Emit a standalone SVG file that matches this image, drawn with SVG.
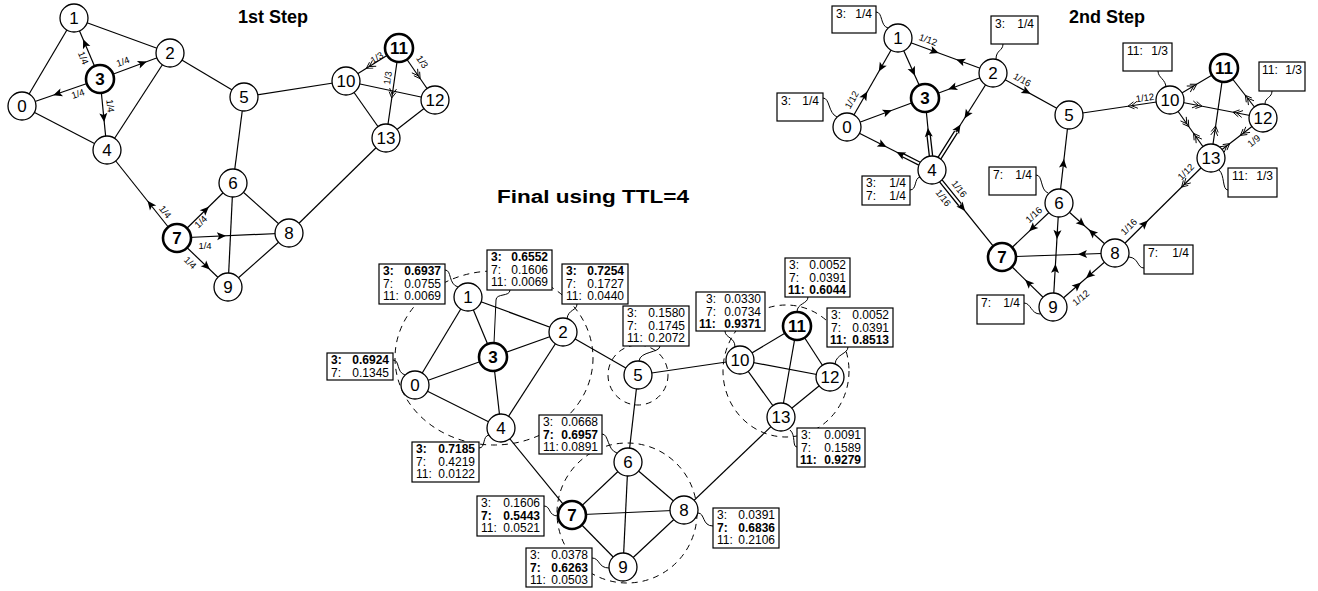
<svg xmlns="http://www.w3.org/2000/svg" width="1318" height="591" viewBox="0 0 1318 591">
<style>
.e{stroke:#000;stroke-width:1.2;fill:none}
.n circle{fill:#fff;stroke:#000;stroke-width:1.3}
.n text{font-family:"Liberation Sans",Arial,sans-serif;font-size:17px;text-anchor:middle}
.n.b circle{stroke-width:2.6}
.n.b text{font-weight:bold}
.box{fill:#fff;stroke:#000;stroke-width:1.2}
.bt{font-family:"Liberation Sans",Arial,sans-serif;font-size:12px}
.r{text-anchor:end}
.bd{font-weight:bold}
.lab{font-family:"Liberation Sans",Arial,sans-serif;font-size:9.5px;text-anchor:middle}
.title{font-family:"Liberation Sans",Arial,sans-serif;font-size:18px;font-weight:bold;text-anchor:middle}
.dash{fill:none;stroke:#000;stroke-dasharray:6 5;stroke-width:1}
.con{fill:none;stroke:#000;stroke-width:1}
.af{fill:none;stroke:none;marker-end:url(#fa)}
.ac{fill:none;stroke:none;marker-end:url(#dc)}
.dl1{stroke:#000;stroke-width:4.6;fill:none}
.dl2{stroke:#fff;stroke-width:2;fill:none}
</style>
<defs>
<marker id="fa" markerUnits="userSpaceOnUse" viewBox="-7 -6 14 12" markerWidth="14" markerHeight="12" refX="0" refY="0" orient="auto" overflow="visible">
<path d="M4,0 L-5,-4 L-3,0 L-5,4 Z" fill="#000"/>
</marker>
<marker id="dc" markerUnits="userSpaceOnUse" viewBox="-10 -6 14 12" markerWidth="14" markerHeight="12" refX="0" refY="0" orient="auto" overflow="visible">
<path d="M2,0 L-4,-3.5 M2,0 L-4,3.5 M-1.5,0 L-7.5,-3.5 M-1.5,0 L-7.5,3.5" fill="none" stroke="#000" stroke-width="0.9"/>
</marker>
</defs>
<rect width="1318" height="591" fill="#fff"/>

<text class="title" x="273" y="23">1st Step</text>
<text class="title" x="1107" y="23">2nd Step</text>
<text class="title" x="593" y="203" font-size="19" textLength="192" lengthAdjust="spacingAndGlyphs">Final using TTL=4</text>

<g id="connectors">
<!-- Step 1 edges -->
<g id="s1-edges" class="e">
<line x1="22" y1="106" x2="74" y2="18"/><line x1="74" y1="18" x2="170" y2="53"/><line x1="74" y1="18" x2="100" y2="79"/>
<line x1="22" y1="106" x2="100" y2="79"/><line x1="170" y1="53" x2="100" y2="79"/><line x1="100" y1="79" x2="107" y2="150"/>
<line x1="22" y1="106" x2="107" y2="150"/><line x1="170" y1="53" x2="107" y2="150"/><line x1="170" y1="53" x2="244" y2="97"/>
<line x1="244" y1="97" x2="346" y2="81"/><line x1="244" y1="97" x2="233" y2="183"/><line x1="107" y1="150" x2="177" y2="238"/>
<line x1="233" y1="183" x2="177" y2="238"/><line x1="233" y1="183" x2="289" y2="233"/><line x1="233" y1="183" x2="228" y2="287"/>
<line x1="177" y1="238" x2="289" y2="233"/><line x1="177" y1="238" x2="228" y2="287"/><line x1="289" y1="233" x2="228" y2="287"/>
<line x1="289" y1="233" x2="386" y2="138"/><line x1="346" y1="81" x2="399" y2="48"/><line x1="346" y1="81" x2="435" y2="100"/>
<line x1="346" y1="81" x2="386" y2="138"/><line x1="399" y1="48" x2="435" y2="100"/><line x1="399" y1="48" x2="386" y2="138"/>
<line x1="435" y1="100" x2="386" y2="138"/>
</g>
<g id="s1-arrows">
<path class="af" d="M100,79 L84.7,43"/><path class="af" d="M100,79 L143,63"/><path class="af" d="M100,79 L57,94"/><path class="af" d="M100,79 L103.8,118"/>
<path class="af" d="M177,238 L150,204"/><path class="af" d="M177,238 L206,209.5"/><path class="af" d="M177,238 L222,236"/><path class="af" d="M177,238 L207,266.8"/>
<path class="ac" d="M399,48 L368,67.3"/><path class="ac" d="M399,48 L392,96"/><path class="ac" d="M399,48 L419,77"/>
</g>
<g id="s1-labels" class="lab">
<text transform="translate(83,58) rotate(67)" y="3">1/4</text>
<text transform="translate(123,62) rotate(-20)" y="3">1/4</text>
<text transform="translate(78,94) rotate(-19)" y="3">1/4</text>
<text transform="translate(110,106) rotate(84)" y="3">1/4</text>
<text transform="translate(165,212) rotate(51)" y="3">1/4</text>
<text transform="translate(201,222) rotate(-44)" y="3">1/4</text>
<text transform="translate(205,246)" y="3">1/4</text>
<text transform="translate(190,263) rotate(44)" y="3">1/4</text>
<text transform="translate(377,58) rotate(-32)" y="3">1/3</text>
<text transform="translate(388,78) rotate(-82)" y="3">1/3</text>
<text transform="translate(422,62) rotate(55)" y="3">1/3</text>
</g>

<!-- Step 2 edges -->
<g id="s2-edges" class="e">
<line x1="847" y1="127" x2="898" y2="38"/><line x1="898" y1="38" x2="993" y2="73"/><line x1="898" y1="38" x2="925" y2="98"/>
<line x1="847" y1="127" x2="925" y2="98"/><line x1="993" y1="73" x2="925" y2="98"/><line x1="925" y1="98" x2="932" y2="170"/>
<line x1="847" y1="127" x2="932" y2="170"/><line x1="993" y1="73" x2="932" y2="170"/><line x1="993" y1="73" x2="1069" y2="115"/>
<line x1="1069" y1="115" x2="1170" y2="100"/><line x1="1069" y1="115" x2="1059" y2="203"/><line x1="932" y1="170" x2="1002" y2="257"/>
<line x1="1059" y1="203" x2="1002" y2="257"/><line x1="1059" y1="203" x2="1115" y2="253"/><line x1="1059" y1="203" x2="1053" y2="307"/>
<line x1="1002" y1="257" x2="1115" y2="253"/><line x1="1002" y1="257" x2="1053" y2="307"/><line x1="1115" y1="253" x2="1053" y2="307"/>
<line x1="1115" y1="253" x2="1211" y2="158"/><line x1="1170" y1="100" x2="1224" y2="68"/><line x1="1170" y1="100" x2="1263" y2="118"/>
<line x1="1170" y1="100" x2="1211" y2="158"/><line x1="1224" y1="68" x2="1263" y2="118"/><line x1="1224" y1="68" x2="1211" y2="158"/>
<line x1="1263" y1="118" x2="1211" y2="158"/>
</g>
<g id="s2-double">
<path class="dl1" d="M931,156 L928.6,135 M939.4,158.2 L956,132 M919.5,163.7 L903,155.3 M940.8,180.9 L960,204.7"/>
<path class="dl2" d="M931,156 L928.6,135 M939.4,158.2 L956,132 M919.5,163.7 L903,155.3 M940.8,180.9 L960,204.7"/>
</g>
<g id="s2-arrows">
<path class="af" d="M898,38 L880.8,68"/><path class="af" d="M847,127 L865.3,95"/><path class="af" d="M898,38 L913.3,72"/>
<path class="af" d="M898,38 L935,51.6"/><path class="af" d="M993,73 L960,60.8"/><path class="af" d="M993,73 L952,88"/>
<path class="af" d="M993,73 L966.6,115"/><path class="af" d="M932,170 L958.4,128"/><path class="af" d="M847,127 L888,111.7"/>
<path class="af" d="M847,127 L883,145.2"/><path class="af" d="M932,170 L900,153.8"/><path class="af" d="M932,170 L928.3,132"/>
<path class="af" d="M993,73 L1027,91.8"/><path class="af" d="M932,170 L962.6,208"/><path class="af" d="M1059,203 L1063.5,163"/>
<path class="af" d="M1059,203 L1032,228.6"/><path class="af" d="M1059,203 L1057.2,235"/><path class="af" d="M1053,307 L1055.3,268"/>
<path class="af" d="M1059,203 L1082,223.5"/><path class="af" d="M1115,253 L1091.7,232.2"/><path class="af" d="M1115,253 L1082,254.2"/>
<path class="af" d="M1115,253 L1089,275.6"/><path class="af" d="M1053,307 L1078,285.2"/><path class="af" d="M1053,307 L1028,282.5"/>
<path class="af" d="M1115,253 L1145,223.3"/>
<path class="ac" d="M1211,158 L1183,185.7"/><path class="ac" d="M1170,100 L1130,105.9"/><path class="ac" d="M1170,100 L1195,85.2"/>
<path class="ac" d="M1170,100 L1200,105.8"/><path class="ac" d="M1263,118 L1235,112.6"/><path class="ac" d="M1170,100 L1187.7,125"/>
<path class="ac" d="M1211,158 L1194.7,135"/><path class="ac" d="M1211,158 L1215.3,128"/><path class="ac" d="M1263,118 L1246.6,97"/>
<path class="ac" d="M1211,158 L1228,144.9"/><path class="ac" d="M1263,118 L1242,134.2"/>
</g>
<g id="s2-labels" class="lab">
<text transform="translate(852,100) rotate(-60)" y="3">1/12</text>
<text transform="translate(928,40) rotate(20)" y="3">1/12</text>
<text transform="translate(1022,80) rotate(29)" y="3">1/16</text>
<text transform="translate(959,189) rotate(52)" y="3">1/16</text>
<text transform="translate(943,198) rotate(52)" y="3">1/16</text>
<text transform="translate(1034,215) rotate(-43)" y="3">1/16</text>
<text transform="translate(1081,298) rotate(-40)" y="3">1/12</text>
<text transform="translate(1129,227) rotate(-45)" y="3">1/16</text>
<text transform="translate(1186,172) rotate(-45)" y="3">1/12</text>
<text transform="translate(1145,98) rotate(-8)" y="3">1/12</text>
<text transform="translate(1254,141) rotate(-40)" y="3">1/9</text>
</g>
<g id="s2-callouts" class="con">
<path d="M876,12 C883,12 880,26 888,28"/><path d="M1003,44 C1003,51 996,50 996,59"/><path d="M823,98 C830,98 828,113 837,117"/>
<path d="M910,190 C917,190 914,178 920,177"/><path d="M1036,175 C1043,175 1040,190 1048,193"/><path d="M1144,268 C1137,268 1139,258 1129,257"/>
<path d="M1024,303 C1031,303 1031,314 1040,314"/><path d="M1158,71 C1158,78 1166,79 1166,88"/><path d="M1272,91 C1272,98 1265,97 1265,104"/>
<path d="M1228,190 C1222,190 1225,175 1219,170"/>
</g>

<!-- Final edges -->
<g id="f-edges" class="e">
<line x1="415" y1="385" x2="468" y2="297"/><line x1="468" y1="297" x2="563" y2="332"/><line x1="468" y1="297" x2="493" y2="357"/>
<line x1="415" y1="385" x2="493" y2="357"/><line x1="563" y1="332" x2="493" y2="357"/><line x1="493" y1="357" x2="501" y2="428"/>
<line x1="415" y1="385" x2="501" y2="428"/><line x1="563" y1="332" x2="501" y2="428"/><line x1="563" y1="332" x2="638" y2="375"/>
<line x1="638" y1="375" x2="740" y2="360"/><line x1="638" y1="375" x2="628" y2="462"/><line x1="501" y1="428" x2="572" y2="515"/>
<line x1="628" y1="462" x2="572" y2="515"/><line x1="628" y1="462" x2="684" y2="510"/><line x1="628" y1="462" x2="623" y2="567"/>
<line x1="572" y1="515" x2="684" y2="510"/><line x1="572" y1="515" x2="623" y2="567"/><line x1="684" y1="510" x2="623" y2="567"/>
<line x1="684" y1="510" x2="781" y2="417"/><line x1="740" y1="360" x2="797" y2="326"/><line x1="740" y1="360" x2="830" y2="377"/>
<line x1="740" y1="360" x2="781" y2="417"/><line x1="797" y1="326" x2="830" y2="377"/><line x1="797" y1="326" x2="781" y2="417"/>
<line x1="830" y1="377" x2="781" y2="417"/>
</g>
<g id="f-regions">
<ellipse class="dash" cx="494" cy="358" rx="99" ry="87"/>
<circle class="dash" cx="638" cy="375" r="30"/>
<ellipse class="dash" cx="786" cy="371" rx="63" ry="66"/>
<circle class="dash" cx="627" cy="513" r="70"/>
</g>
<g id="f-callouts" class="con">
<path d="M445,270 C452,270 448,284 458,287"/><path d="M510,290 C510,297 496,293 496,300 L494,343"/><path d="M577,304 C577,311 568,309 567,319"/>
<path d="M393,360 C400,360 396,372 405,375"/><path d="M479,448 C486,448 482,436 489,435"/><path d="M602,434 C609,434 607,450 617,453"/>
<path d="M544,506 C551,506 548,516 558,516"/><path d="M592,558 C600,558 598,568 609,568"/><path d="M660,346 C660,353 640,351 639,361"/>
<path d="M725,331 C725,338 735,337 735,347"/><path d="M808,297 C808,304 797,303 797,312"/><path d="M848,347 C848,354 836,354 835,364"/>
<path d="M797,447 C792,447 796,435 790,430"/><path d="M698,513 C705,513 702,526 713,526"/>
</g>
</g>

<!-- Step 1 nodes -->
<g id="s1-n0" class="n"><circle cx="22" cy="106" r="14"/><text x="22" y="112">0</text></g>
<g id="s1-n1" class="n"><circle cx="74" cy="18" r="14"/><text x="74" y="24">1</text></g>
<g id="s1-n2" class="n"><circle cx="170" cy="53" r="14"/><text x="170" y="59">2</text></g>
<g id="s1-n3" class="n b"><circle cx="100" cy="79" r="14"/><text x="100" y="85">3</text></g>
<g id="s1-n4" class="n"><circle cx="107" cy="150" r="14"/><text x="107" y="156">4</text></g>
<g id="s1-n5" class="n"><circle cx="244" cy="97" r="14"/><text x="244" y="103">5</text></g>
<g id="s1-n6" class="n"><circle cx="233" cy="183" r="14"/><text x="233" y="189">6</text></g>
<g id="s1-n7" class="n b"><circle cx="177" cy="238" r="14"/><text x="177" y="244">7</text></g>
<g id="s1-n8" class="n"><circle cx="289" cy="233" r="14"/><text x="289" y="239">8</text></g>
<g id="s1-n9" class="n"><circle cx="228" cy="287" r="14"/><text x="228" y="293">9</text></g>
<g id="s1-n10" class="n"><circle cx="346" cy="81" r="14"/><text x="346" y="87">10</text></g>
<g id="s1-n11" class="n b"><circle cx="399" cy="48" r="14"/><text x="399" y="54">11</text></g>
<g id="s1-n12" class="n"><circle cx="435" cy="100" r="14"/><text x="435" y="106">12</text></g>
<g id="s1-n13" class="n"><circle cx="386" cy="138" r="14"/><text x="386" y="144">13</text></g>

<!-- Step 2 nodes -->
<g id="s2-n0" class="n"><circle cx="847" cy="127" r="14"/><text x="847" y="133">0</text></g>
<g id="s2-n1" class="n"><circle cx="898" cy="38" r="14"/><text x="898" y="44">1</text></g>
<g id="s2-n2" class="n"><circle cx="993" cy="73" r="14"/><text x="993" y="79">2</text></g>
<g id="s2-n3" class="n b"><circle cx="925" cy="98" r="14"/><text x="925" y="104">3</text></g>
<g id="s2-n4" class="n"><circle cx="932" cy="170" r="14"/><text x="932" y="176">4</text></g>
<g id="s2-n5" class="n"><circle cx="1069" cy="115" r="14"/><text x="1069" y="121">5</text></g>
<g id="s2-n6" class="n"><circle cx="1059" cy="203" r="14"/><text x="1059" y="209">6</text></g>
<g id="s2-n7" class="n b"><circle cx="1002" cy="257" r="14"/><text x="1002" y="263">7</text></g>
<g id="s2-n8" class="n"><circle cx="1115" cy="253" r="14"/><text x="1115" y="259">8</text></g>
<g id="s2-n9" class="n"><circle cx="1053" cy="307" r="14"/><text x="1053" y="313">9</text></g>
<g id="s2-n10" class="n"><circle cx="1170" cy="100" r="14"/><text x="1170" y="106">10</text></g>
<g id="s2-n11" class="n b"><circle cx="1224" cy="68" r="14"/><text x="1224" y="74">11</text></g>
<g id="s2-n12" class="n"><circle cx="1263" cy="118" r="14"/><text x="1263" y="124">12</text></g>
<g id="s2-n13" class="n"><circle cx="1211" cy="158" r="14"/><text x="1211" y="164">13</text></g>

<!-- Step 2 boxes -->
<g id="s2-box1" class="bt"><rect class="box" x="832" y="6" width="44" height="27"/><text x="836" y="18">3:</text><text class="r" x="872" y="18">1/4</text></g>
<g id="s2-box2" class="bt"><rect class="box" x="991" y="16" width="47" height="28"/><text x="995" y="28">3:</text><text class="r" x="1034" y="28">1/4</text></g>
<g id="s2-box0" class="bt"><rect class="box" x="777" y="93" width="46" height="28"/><text x="781" y="105">3:</text><text class="r" x="819" y="105">1/4</text></g>
<g id="s2-box4" class="bt"><rect class="box" x="862" y="176" width="48" height="29"/><text x="866" y="187">3:</text><text class="r" x="906" y="187">1/4</text><text x="866" y="200">7:</text><text class="r" x="906" y="200">1/4</text></g>
<g id="s2-box6" class="bt"><rect class="box" x="989" y="167" width="47" height="28"/><text x="993" y="179">7:</text><text class="r" x="1032" y="179">1/4</text></g>
<g id="s2-box8" class="bt"><rect class="box" x="1144" y="245" width="49" height="29"/><text x="1148" y="257">7:</text><text class="r" x="1189" y="257">1/4</text></g>
<g id="s2-box9" class="bt"><rect class="box" x="977" y="295" width="47" height="29"/><text x="981" y="307">7:</text><text class="r" x="1020" y="307">1/4</text></g>
<g id="s2-box10" class="bt"><rect class="box" x="1123" y="43" width="49" height="28"/><text x="1127" y="55">11:</text><text class="r" x="1168" y="55">1/3</text></g>
<g id="s2-box12" class="bt"><rect class="box" x="1259" y="62" width="46" height="29"/><text x="1262" y="74">11:</text><text class="r" x="1302" y="74">1/3</text></g>
<g id="s2-box13" class="bt"><rect class="box" x="1228" y="168" width="49" height="29"/><text x="1232" y="180">11:</text><text class="r" x="1273" y="180">1/3</text></g>

<!-- Final nodes -->
<g id="f-n0" class="n"><circle cx="415" cy="385" r="14"/><text x="415" y="391">0</text></g>
<g id="f-n1" class="n"><circle cx="468" cy="297" r="14"/><text x="468" y="303">1</text></g>
<g id="f-n2" class="n"><circle cx="563" cy="332" r="14"/><text x="563" y="338">2</text></g>
<g id="f-n3" class="n b"><circle cx="493" cy="357" r="14"/><text x="493" y="363">3</text></g>
<g id="f-n4" class="n"><circle cx="501" cy="428" r="14"/><text x="501" y="434">4</text></g>
<g id="f-n5" class="n"><circle cx="638" cy="375" r="14"/><text x="638" y="381">5</text></g>
<g id="f-n6" class="n"><circle cx="628" cy="462" r="14"/><text x="628" y="468">6</text></g>
<g id="f-n7" class="n b"><circle cx="572" cy="515" r="14"/><text x="572" y="521">7</text></g>
<g id="f-n8" class="n"><circle cx="684" cy="510" r="14"/><text x="684" y="516">8</text></g>
<g id="f-n9" class="n"><circle cx="623" cy="567" r="14"/><text x="623" y="573">9</text></g>
<g id="f-n10" class="n"><circle cx="740" cy="360" r="14"/><text x="740" y="366">10</text></g>
<g id="f-n11" class="n b"><circle cx="797" cy="326" r="14"/><text x="797" y="332">11</text></g>
<g id="f-n12" class="n"><circle cx="830" cy="377" r="14"/><text x="830" y="383">12</text></g>
<g id="f-n13" class="n"><circle cx="781" cy="417" r="14"/><text x="781" y="423">13</text></g>

<!-- Final boxes -->
<g id="f-box1" class="bt"><rect class="box" x="379" y="264" width="66" height="40"/>
<text class="bd" x="383" y="275">3:</text><text class="bd r" x="441" y="275">0.6937</text>
<text x="383" y="287.5">7:</text><text class="r" x="441" y="287.5">0.0755</text>
<text x="383" y="300">11:</text><text class="r" x="441" y="300">0.0069</text></g>
<g id="f-box3" class="bt"><rect class="box" x="487" y="250" width="65" height="40"/>
<text class="bd" x="491" y="261">3:</text><text class="bd r" x="548" y="261">0.6552</text>
<text x="491" y="273.5">7:</text><text class="r" x="548" y="273.5">0.1606</text>
<text x="491" y="286">11:</text><text class="r" x="548" y="286">0.0069</text></g>
<g id="f-box2" class="bt"><rect class="box" x="562" y="264" width="66" height="40"/>
<text class="bd" x="566" y="275">3:</text><text class="bd r" x="624" y="275">0.7254</text>
<text x="566" y="287.5">7:</text><text class="r" x="624" y="287.5">0.1727</text>
<text x="566" y="300">11:</text><text class="r" x="624" y="300">0.0440</text></g>
<g id="f-box0" class="bt" font-size="11.5"><rect class="box" x="327" y="353" width="66" height="27"/>
<text class="bd" x="331" y="364">3:</text><text class="bd r" x="389" y="364">0.6924</text>
<text x="331" y="377">7:</text><text class="r" x="389" y="377">0.1345</text></g>
<g id="f-box4" class="bt"><rect class="box" x="412" y="442" width="67" height="40"/>
<text class="bd" x="416" y="453">3:</text><text class="bd r" x="475" y="453">0.7185</text>
<text x="416" y="465.5">7:</text><text class="r" x="475" y="465.5">0.4219</text>
<text x="416" y="478">11:</text><text class="r" x="475" y="478">0.0122</text></g>
<g id="f-box6" class="bt"><rect class="box" x="539" y="415" width="63" height="39"/>
<text x="543" y="426">3:</text><text class="r" x="598" y="426">0.0668</text>
<text class="bd" x="543" y="438.5">7:</text><text class="bd r" x="598" y="438.5">0.6957</text>
<text x="543" y="451">11:</text><text class="r" x="598" y="451">0.0891</text></g>
<g id="f-box7" class="bt"><rect class="box" x="477" y="496" width="67" height="40"/>
<text x="481" y="507">3:</text><text class="r" x="540" y="507">0.1606</text>
<text class="bd" x="481" y="519.5">7:</text><text class="bd r" x="540" y="519.5">0.5443</text>
<text x="481" y="532">11:</text><text class="r" x="540" y="532">0.0521</text></g>
<g id="f-box9" class="bt"><rect class="box" x="526" y="548" width="66" height="39"/>
<text x="530" y="559">3:</text><text class="r" x="588" y="559">0.0378</text>
<text class="bd" x="530" y="571.5">7:</text><text class="bd r" x="588" y="571.5">0.6263</text>
<text x="530" y="584">11:</text><text class="r" x="588" y="584">0.0503</text></g>
<g id="f-box5" class="bt"><rect class="box" x="623" y="306" width="66" height="40"/>
<text x="627" y="317">3:</text><text class="r" x="685" y="317">0.1580</text>
<text x="627" y="329.5">7:</text><text class="r" x="685" y="329.5">0.1745</text>
<text x="627" y="342">11:</text><text class="r" x="685" y="342">0.2072</text></g>
<g id="f-box10" class="bt"><rect class="box" x="696" y="292" width="69" height="39"/>
<text x="706" y="303">3:</text><text class="r" x="761" y="303">0.0330</text>
<text x="706" y="315.5">7:</text><text class="r" x="761" y="315.5">0.0734</text>
<text class="bd" x="699" y="328">11:</text><text class="bd r" x="761" y="328">0.9371</text></g>
<g id="f-box11" class="bt"><rect class="box" x="785" y="258" width="65" height="39"/>
<text x="789" y="269">3:</text><text class="r" x="846" y="269">0.0052</text>
<text x="789" y="281.5">7:</text><text class="r" x="846" y="281.5">0.0391</text>
<text class="bd" x="788" y="294">11:</text><text class="bd r" x="846" y="294">0.6044</text></g>
<g id="f-box12" class="bt"><rect class="box" x="827" y="308" width="66" height="39"/>
<text x="831" y="319">3:</text><text class="r" x="889" y="319">0.0052</text>
<text x="831" y="331.5">7:</text><text class="r" x="889" y="331.5">0.0391</text>
<text class="bd" x="830" y="344">11:</text><text class="bd r" x="889" y="344">0.8513</text></g>
<g id="f-box13" class="bt"><rect class="box" x="797" y="428" width="68" height="39"/>
<text x="801" y="439">3:</text><text class="r" x="861" y="439">0.0091</text>
<text x="801" y="451.5">7:</text><text class="r" x="861" y="451.5">0.1589</text>
<text class="bd" x="800" y="464">11:</text><text class="bd r" x="861" y="464">0.9279</text></g>
<g id="f-box8" class="bt"><rect class="box" x="713" y="508" width="66" height="40"/>
<text x="717" y="519">3:</text><text class="r" x="775" y="519">0.0391</text>
<text class="bd" x="717" y="531.5">7:</text><text class="bd r" x="775" y="531.5">0.6836</text>
<text x="717" y="544">11:</text><text class="r" x="775" y="544">0.2106</text></g>
</svg>
